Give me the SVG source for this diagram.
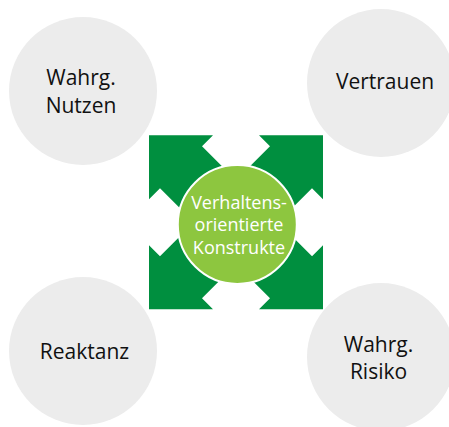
<svg xmlns="http://www.w3.org/2000/svg" width="449" height="427" viewBox="0 0 449 427">
  <defs>
    <style>
      .outer { fill: #ececec; }
      .lbl { font-family: "Open Sans", "Noto Sans", "DejaVu Sans", sans-serif; font-size: 21px; fill: #111111; text-anchor: middle; }
      .clbl { font-family: "Open Sans", "Noto Sans", "DejaVu Sans", sans-serif; font-size: 18px; fill: #ffffff; text-anchor: middle; }
      .arrow { fill: #008f3f; }
    </style>
    <polygon id="diagArrow" points="-87,-87 -23,-87 -34,-76 21,-21 -21,21 -76,-34 -87,-23"/>
  </defs>
  <rect width="449" height="427" fill="#ffffff"/>

  <g id="node-nutzen">
    <circle class="outer" cx="83" cy="91" r="74"/>
    <text class="lbl" x="81" y="85">Wahrg.</text>
    <text class="lbl" x="81" y="112.5">Nutzen</text>
  </g>
  <g id="node-vertrauen">
    <circle class="outer" cx="381" cy="83" r="74"/>
    <text class="lbl" x="385" y="88.5">Vertrauen</text>
  </g>
  <g id="node-reaktanz">
    <circle class="outer" cx="83" cy="351" r="74"/>
    <text class="lbl" x="84.5" y="358.5">Reaktanz</text>
  </g>
  <g id="node-risiko">
    <circle class="outer" cx="381" cy="357" r="74"/>
    <text class="lbl" x="378.5" y="351.5">Wahrg.</text>
    <text class="lbl" x="378.5" y="378.5">Risiko</text>
  </g>

  <g id="connectors">
    <use href="#diagArrow" class="arrow" transform="translate(236,222.3)"/>
    <use href="#diagArrow" class="arrow" transform="translate(236,222.3) rotate(90)"/>
    <use href="#diagArrow" class="arrow" transform="translate(236,222.3) rotate(180)"/>
    <use href="#diagArrow" class="arrow" transform="translate(236,222.3) rotate(270)"/>
  </g>

  <g id="node-center">
    <circle cx="237.3" cy="224.5" r="59.5" fill="#8dc63f" stroke="#ffffff" stroke-width="2"/>
    <text class="clbl" x="239" y="208.5">Verhaltens-</text>
    <text class="clbl" x="239" y="231">orientierte</text>
    <text class="clbl" x="239" y="253.5">Konstrukte</text>
  </g>
</svg>
